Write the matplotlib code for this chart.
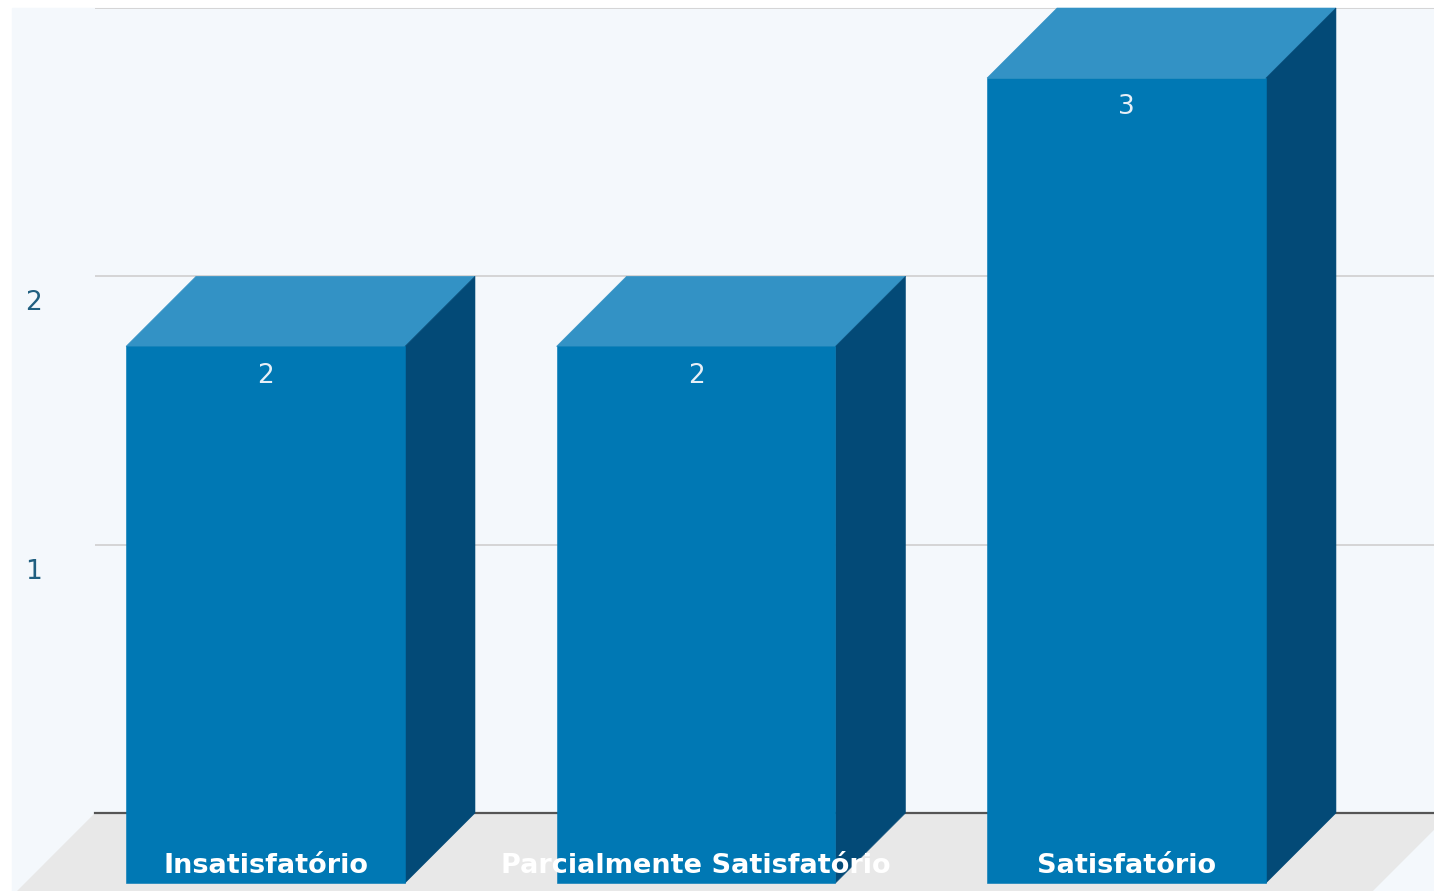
import matplotlib.pyplot as plt
from matplotlib.patches import Polygon, Rectangle
from matplotlib.transforms import ScaledTranslation

# dados
categorias = ['Insatisfatório', 'Parcialmente Satisfatório', 'Satisfatório']
valores = [2, 2, 3]
yticks = [1, 2, 3]
ytick_labels = ['1', '2', '']

# cores
cor_frente = '#0078b4'
cor_topo = '#3392c5'
cor_lado = '#034a77'
cor_chao = '#e8e8e8'
cor_fundo = '#f4f8fc'

fig = plt.figure(figsize=(14.34, 8.91), dpi=100, facecolor='white')
fig.patches.append(Rectangle((12 / 1434, 0), 1, (891 - 8) / 891,
                             transform=fig.transFigure, color=cor_fundo, zorder=-10))

# eixo = parede do fundo
ax = fig.add_axes([95 / 1434, (891 - 813) / 891, (1434 - 95) / 1434, (813 - 8) / 891])
ax.set_facecolor('none')
x0, x1 = -0.5587, 2.5517
ax.set_xlim(x0, x1)
ax.set_ylim(0, 3)

larg = 0.648          # largura da barra (unid. categoria)
dx = 70 / 430.5       # profundidade em x
dy = 70 / 268.3       # profundidade em y

# chao
fdx, fdy = 80 / 430.5, 80 / 268.3
xr = 2.591
chao = Polygon([(x0, 0), (xr, 0), (xr - fdx, -fdy), (x0 - fdx, -fdy)],
               closed=True, facecolor=cor_chao, edgecolor='none', zorder=1, clip_on=False)
ax.add_patch(chao)

for i, v in enumerate(valores):
    esq, dir_ = i - larg / 2, i + larg / 2
    frente = Polygon([(esq - dx, -dy), (dir_ - dx, -dy), (dir_ - dx, v - dy), (esq - dx, v - dy)],
                     closed=True, facecolor=cor_frente, edgecolor=cor_frente, lw=0.4,
                     zorder=4, clip_on=False)
    topo = Polygon([(esq - dx, v - dy), (dir_ - dx, v - dy), (dir_, v), (esq, v)],
                   closed=True, facecolor=cor_topo, edgecolor=cor_topo, lw=0.4,
                   zorder=4, clip_on=False)
    lado = Polygon([(dir_ - dx, -dy), (dir_, 0), (dir_, v), (dir_ - dx, v - dy)],
                   closed=True, facecolor=cor_lado, edgecolor=cor_lado, lw=0.4,
                   zorder=4, clip_on=False)
    for p in (topo, lado, frente):
        ax.add_patch(p)
    ax.annotate(str(v), (i - dx, v - dy), xytext=(0, -21), textcoords='offset points',
                ha='center', va='center', color='#e6eff7', fontsize=19, zorder=6,
                annotation_clip=False)
    ax.annotate(categorias[i], (i - dx, -dy), xytext=(0, 7.2), textcoords='offset points',
                ha='center', va='baseline', color='white', fontsize=19.5, fontweight='bold',
                zorder=6, annotation_clip=False)

# grade e eixos
ax.set_yticks(yticks)
ax.set_yticklabels(ytick_labels)
ax.set_xticks([])
ax.grid(axis='y', color='#cfcfcf', linewidth=1.2, zorder=0)
ax.set_axisbelow(True)
ax.tick_params(axis='y', length=0, pad=38, labelsize=19, labelcolor='#205f80')
for lab in ax.get_yticklabels():
    lab.set_transform(lab.get_transform() + ScaledTranslation(0, -24 / 100, fig.dpi_scale_trans))
for lado_ in ('top', 'left', 'right'):
    ax.spines[lado_].set_visible(False)
ax.spines['bottom'].set_color('#555555')
ax.spines['bottom'].set_linewidth(1.6)
ax.spines['bottom'].set_zorder(2)

fig.savefig('out.png', dpi=100)
